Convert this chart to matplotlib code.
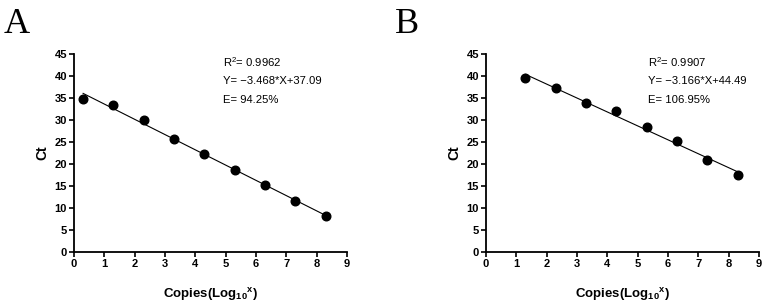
import matplotlib
matplotlib.use("Agg")
import matplotlib.pyplot as plt
import numpy as np

# Panel A data
xA = [0.3, 1.3, 2.3, 3.3, 4.3, 5.3, 6.3, 7.3, 8.3]
yA = [34.8, 33.4, 29.9, 25.6, 22.2, 18.6, 15.2, 11.7, 8.2]
slopeA, interA = -3.468, 37.09
textA = ["R$^2$= 0.9962", "Y= \u22123.468*X+37.09", "E= 94.25%"]

# Panel B data
xB = [1.3, 2.3, 3.3, 4.3, 5.3, 6.3, 7.3, 8.3]
yB = [39.6, 37.2, 33.8, 32.0, 28.3, 25.3, 20.9, 17.4]
slopeB, interB = -3.166, 44.49
textB = ["R$^2$= 0.9907", "Y= \u22123.166*X+44.49", "E= 106.95%"]

xticks = list(range(0, 10))
yticks = list(range(0, 50, 5))

plt.rcParams['font.family'] = ['Liberation Sans', 'DejaVu Sans']
plt.rcParams['mathtext.fontset'] = 'custom'
plt.rcParams['mathtext.rm'] = 'Liberation Sans'
plt.rcParams['mathtext.bf'] = 'Liberation Sans:bold'

W, H = 766, 304
fig = plt.figure(figsize=(W/100, H/100), dpi=100)

def make(ax_left_px, x, y, slope, inter, texts, letter, letter_x, text_x):
    ax = fig.add_axes([ax_left_px/W, 1-252/H, 273/W, 198/H])
    xs = np.array([x[0], x[-1]])
    ax.plot(xs, slope*xs + inter, color='black', lw=0.8, zorder=2)
    ax.plot(x, y, 'o', color='black', ms=6.2, zorder=3)
    ax.set_xlim(0, 9)
    ax.set_ylim(0, 45)
    ax.set_xticks(xticks)
    ax.set_yticks(yticks)
    for s in ['top', 'right']:
        ax.spines[s].set_visible(False)
    for s in ['left', 'bottom']:
        ax.spines[s].set_linewidth(1.3)
    ax.tick_params(direction='out', length=3.5, width=1.2, labelsize=8, pad=1.5)
    for lab in ax.get_xticklabels() + ax.get_yticklabels():
        lab.set_fontweight('bold')
    ax.set_xlabel("Copies(Log$_{\\mathbf{10}}$$^{\\mathbf{x}}$)", fontsize=9.5, fontweight='bold', labelpad=12)
    ax.set_ylabel("Ct", fontsize=10, fontweight='bold', labelpad=4)
    for i, t in enumerate(texts):
        ax.text(text_x, 43.2 - 4.35*i, t, fontsize=8.1, va='center', ha='left')
    fig.text(letter_x/W, 1-33/H, letter, family='Liberation Serif', fontsize=26, va='baseline', ha='left')
    return ax

make(74, xA, yA, slopeA, interA, textA, "A", 4, 4.91)
make(486, xB, yB, slopeB, interB, textB, "B", 395, 5.34)

fig.savefig("out.png", dpi=100)
